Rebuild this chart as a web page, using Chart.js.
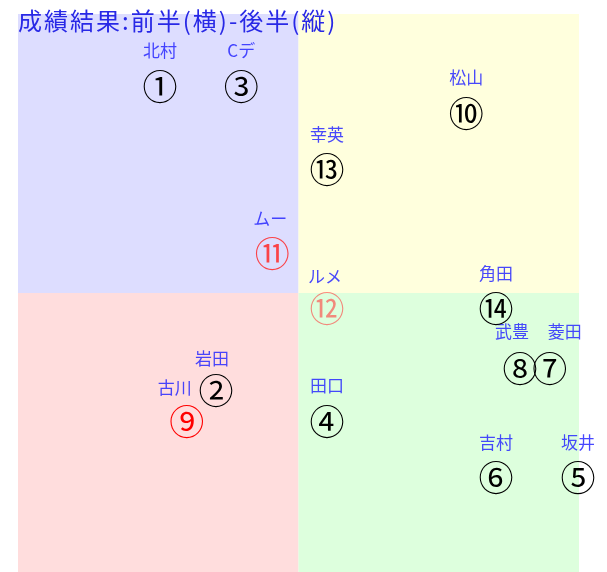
<!DOCTYPE html>
<html>
<head>
<meta charset="utf-8">
<script src="https://cdn.jsdelivr.net/npm/chart.js@4/dist/chart.umd.min.js"></script>
<style>
  html, body { margin: 0; padding: 0; background: #fff; }
  #wrap { width: 607px; height: 572px; }
</style>
</head>
<body>
<div id="wrap"><canvas id="scoreChart"></canvas></div>
<script>
// ===============================
// Data
// ===============================
const names = ['北村', '岩田', 'Cデ', '田口', '坂井', '吉村', '菱田', '武豊', '古川', '松山', 'ムー', 'ルメ', '幸英', '角田'];
const marks = ['①', '②', '③', '④', '⑤', '⑥', '⑦', '⑧', '⑨', '⑩', '⑪', '⑫', '⑬', '⑭'];
const firstHalf = [25.3, 35.3, 39.8, 55.1, 99.8, 85.2, 94.8, 89.5, 30.1, 79.9, 45.3, 55.1, 55.1, 85.2];
const secondHalf = [87.1, 32.6, 87.1, 27.2, 17.0, 17.0, 36.6, 36.6, 27.2, 82.4, 57.2, 47.3, 72.2, 47.3];
const axisMin = 0;
const axisMax = 100;
const axisMid = 50;

// ===============================
// Styles
// ===============================
const markColors = ['#000', '#000', '#000', '#000', '#000', '#000', '#000', '#000',
    '#ff0000', '#000', 'rgba(255,40,40,0.85)', 'rgba(255,60,60,0.6)', '#000', '#000'];
// label offsets (px) relative to the mark, to avoid overlap
const labelShift = {
    1: [-4, -32],
    6: [15, -36],
    7: [-8, -36],
    8: [-12, -33],
    10: [-2, -34],
    11: [-2, -32]
};

const quadrants = [
    { x0: axisMin, x1: axisMid, y0: axisMid, y1: axisMax, color: 'rgb(221,221,255)' },
    { x0: axisMid, x1: axisMax, y0: axisMid, y1: axisMax, color: 'rgb(255,255,221)' },
    { x0: axisMin, x1: axisMid, y0: axisMin, y1: axisMid, color: 'rgb(255,221,221)' },
    { x0: axisMid, x1: axisMax, y0: axisMin, y1: axisMid, color: 'rgb(221,255,221)' }
];

const quadrantPlugin = {
    id: 'quadrants',
    beforeDatasetsDraw(chart) {
        const { ctx, scales: { x, y } } = chart;
        ctx.save();
        quadrants.forEach(q => {
            const l = x.getPixelForValue(q.x0), r = x.getPixelForValue(q.x1);
            const t = y.getPixelForValue(q.y1), b = y.getPixelForValue(q.y0);
            ctx.fillStyle = q.color;
            ctx.fillRect(l, t, r - l, b - t);
        });
        ctx.restore();
    }
};

const markPlugin = {
    id: 'marks',
    afterDatasetsDraw(chart) {
        const ctx = chart.ctx;
        const meta = chart.getDatasetMeta(0);
        ctx.save();
        ctx.textAlign = 'center';
        ctx.textBaseline = 'middle';
        meta.data.forEach((pt, i) => {
            ctx.font = '35px "Noto Sans CJK JP", serif';
            ctx.fillStyle = markColors[i];
            ctx.fillText(marks[i], pt.x, pt.y + 1);
            const s = labelShift[i] || [0, -35];
            ctx.font = '17px "Noto Sans CJK JP", sans-serif';
            ctx.fillStyle = 'rgba(40,40,255,0.85)';
            ctx.fillText(names[i], pt.x + s[0], pt.y + s[1]);
        });
        // title
        ctx.textAlign = 'left';
        ctx.font = '24px "Noto Sans CJK JP", sans-serif';
        ctx.letterSpacing = '2px';
        ctx.fillStyle = 'rgb(40,40,230)';
        ctx.fillText('成績結果:前半(横)-後半(縦)', 18, 21);
        ctx.restore();
    }
};

// ===============================
// Chart
// ===============================
new Chart(document.getElementById('scoreChart'), {
    type: 'scatter',
    data: {
        datasets: [{
            data: firstHalf.map((v, i) => ({ x: v, y: secondHalf[i] })),
            pointRadius: 0,
            pointHoverRadius: 0
        }]
    },
    options: {
        responsive: true,
        maintainAspectRatio: false,
        animation: false,
        layout: { padding: { left: 18, right: 28, top: 14, bottom: 0 } },
        plugins: { legend: { display: false }, tooltip: { enabled: false } },
        scales: {
            x: { display: false, min: axisMin, max: axisMax },
            y: { display: false, min: axisMin, max: axisMax }
        }
    },
    plugins: [quadrantPlugin, markPlugin]
});
</script>
</body>
</html>
